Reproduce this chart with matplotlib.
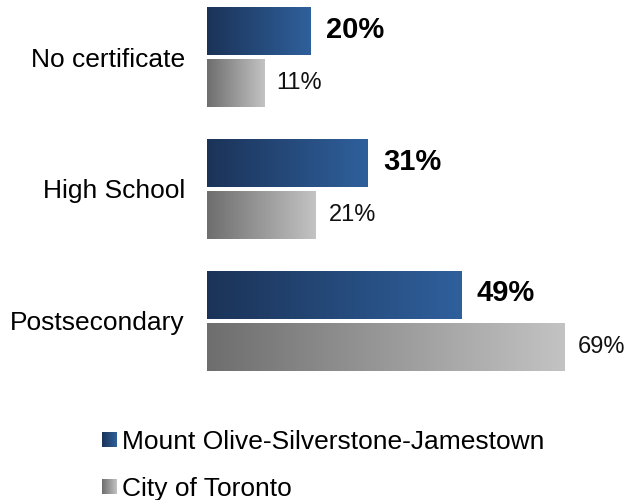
import matplotlib
matplotlib.use("Agg")
import matplotlib.pyplot as plt
import numpy as np
from matplotlib.colors import LinearSegmentedColormap
from matplotlib.image import BboxImage
from matplotlib.transforms import Bbox, TransformedBbox
from matplotlib.patches import Patch

plt.rcParams['font.family'] = ['Liberation Sans', 'DejaVu Sans']

# data
categories = ["No certificate", "High School", "Postsecondary"]
area_vals = [20, 31, 49]
city_vals = [11, 21, 69]
series_names = ["Mount Olive-Silverstone-Jamestown", "City of Toronto"]

blue_cmap = LinearSegmentedColormap.from_list("blue", ["#1b3358", "#2f609c"])
grey_cmap = LinearSegmentedColormap.from_list("grey", ["#6e6e6e", "#c3c3c3"])
grad = np.linspace(0, 1, 256).reshape(1, -1)


class GradHandler:
    def __init__(self, cmap):
        self.cmap = cmap

    def legend_artist(self, legend, orig_handle, fontsize, handlebox):
        x0, y0 = handlebox.xdescent, handlebox.ydescent
        h = handlebox.height
        side = h * 0.8
        bb = Bbox.from_bounds(-x0 + handlebox.width - side, -y0 + (h - side) / 2, side, side)
        img = BboxImage(TransformedBbox(bb, handlebox.get_transform()),
                        cmap=self.cmap, interpolation='bilinear')
        img.set_data(grad)
        handlebox.add_artist(img)
        return img


fig = plt.figure(figsize=(6.29, 5.0), dpi=100)
ax = fig.add_axes([207 / 629, 0.24, 416 / 629, 0.76])

y = np.arange(len(categories))
off = 0.197
hgt = 0.364
bars_a = ax.barh(y - off, area_vals, height=hgt, color='none')
bars_c = ax.barh(y + off, city_vals, height=hgt, color='none')

for bars, cmap in ((bars_a, blue_cmap), (bars_c, grey_cmap)):
    for b in bars:
        x0, yb = b.get_x(), b.get_y()
        w, h = b.get_width(), b.get_height()
        im = ax.imshow(grad, cmap=cmap, extent=[x0, x0 + w, yb + h, yb],
                       aspect='auto', interpolation='bilinear', zorder=2)
        im.set_clip_path(b)

for b, v in zip(bars_a, area_vals):
    ax.annotate(f"{v}%", (b.get_width(), b.get_y() + b.get_height() / 2),
                xytext=(11, 1), textcoords='offset points', va='center', ha='left',
                fontsize=21, fontweight='bold', color='black')
for b, v in zip(bars_c, city_vals):
    ax.annotate(f"{v}%", (b.get_width(), b.get_y() + b.get_height() / 2),
                xytext=(9, 0), textcoords='offset points', va='center', ha='left',
                fontsize=17, color='#111111')

ax.set_xlim(0, 80.2)
ax.set_ylim(2.45, -0.433)
ax.set_yticks(y)
ax.set_yticklabels(categories, fontsize=19)
ax.tick_params(axis='y', length=0, pad=16)
ax.set_xticks([])
for s in ax.spines.values():
    s.set_visible(False)

handles = [Patch(), Patch()]
leg = fig.legend(handles, series_names, loc='upper left', bbox_to_anchor=(72 / 629, 1 - 406 / 500),
                 frameon=False, fontsize=19, handlelength=0.8, handletextpad=0.2,
                 labelspacing=0.88,
                 handler_map={handles[0]: GradHandler(blue_cmap), handles[1]: GradHandler(grey_cmap)})

fig.savefig("out.png", dpi=100)
